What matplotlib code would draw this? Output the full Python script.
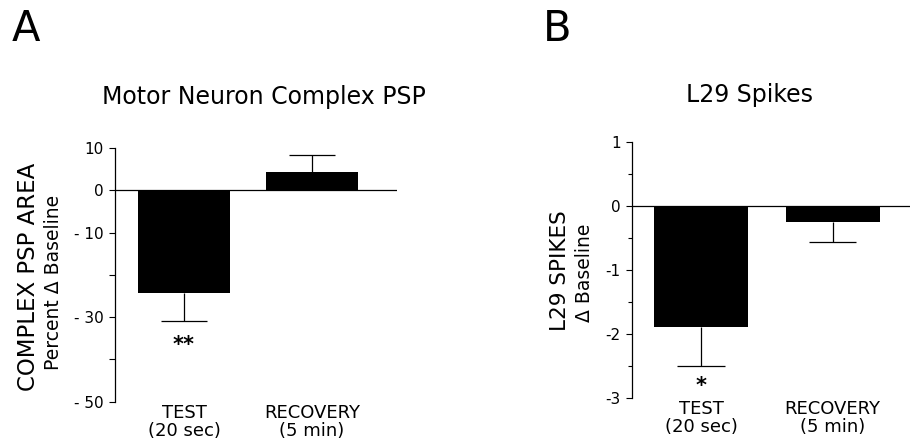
import matplotlib
matplotlib.use('Agg')
import matplotlib.pyplot as plt
from matplotlib.ticker import FixedLocator, FixedFormatter

plt.rcParams['font.family'] = ['DejaVu Sans']

# data
conds = ['TEST\n(20 sec)', 'RECOVERY\n(5 min)']
psp_mean = [-24.3, 4.3]
psp_err = [6.7, 4.0]
psp_stars = ['**', '']
spk_mean = [-1.9, -0.25]
spk_err = [0.61, 0.31]
spk_stars = ['*', '']

psp_ticks = [10, 0, -10, -20, -30, -40, -50]
psp_ticklabels = ['10', '0', '- 10', '', '- 30', '', '- 50']
spk_ticks = [1, 0, -1, -2, -3]
spk_ticklabels = ['1', '0', '-1', '-2', '-3']
spk_minor = [0.5, -0.5, -1.5, -2.5]

W, H = 910, 445
fig = plt.figure(figsize=(W / 100, H / 100), dpi=100)


def px_axes(x0, y0, x1, y1):
    # pixel box (top-left origin) -> figure axes
    return fig.add_axes([x0 / W, 1 - y1 / H, (x1 - x0) / W, (y1 - y0) / H])


def ftext(x, y, s, **kw):
    fig.text(x / W, 1 - y / H, s, **kw)


def bar_panel(ax, means, errs, stars, star_off, width, cap):
    x = list(range(len(means)))
    # error bar goes only away from zero
    ends = [m - e if m < 0 else m + e for m, e in zip(means, errs)]
    ax.vlines(x, means, ends, color='black', lw=0.9, zorder=1)
    ax.hlines(ends, [xi - cap for xi in x], [xi + cap for xi in x], color='black', lw=0.9, zorder=1)
    ax.bar(x, means, width=width, color='black', zorder=2)
    ax.axhline(0, color='black', lw=0.9, zorder=3)
    for xi, y, s in zip(x, ends, stars):
        if s:
            ax.annotate(s, (xi, y), xytext=(0, star_off), textcoords='offset points',
                        ha='center', va='center', fontsize=15, fontweight='bold')
    for sp in ['top', 'right', 'bottom']:
        ax.spines[sp].set_visible(False)
    ax.spines['left'].set_linewidth(0.9)
    ax.set_xticks(x)
    ax.set_xticklabels(conds, fontsize=13, linespacing=0.95)
    ax.tick_params(axis='x', length=0, pad=2)
    ax.tick_params(axis='y', which='both', direction='out', width=0.8, labelsize=11, pad=4)
    ax.tick_params(axis='y', which='major', length=4)
    ax.tick_params(axis='y', which='minor', length=3)


# panel A
axA = px_axes(115, 148, 397, 401.7)
bar_panel(axA, psp_mean, psp_err, psp_stars, -17, 0.72, 0.18)
axA.set_xlim(-0.539, 1.664)
axA.set_ylim(-50, 10)
axA.yaxis.set_major_locator(FixedLocator(psp_ticks))
axA.yaxis.set_major_formatter(FixedFormatter(psp_ticklabels))

# panel B
axB = px_axes(631.7, 142, 910, 397.7)
bar_panel(axB, spk_mean, spk_err, spk_stars, -14, 0.715, 0.18)
axB.set_xlim(-0.527, 1.589)
axB.set_ylim(-3, 1)
axB.yaxis.set_major_locator(FixedLocator(spk_ticks))
axB.yaxis.set_major_formatter(FixedFormatter(spk_ticklabels))
axB.yaxis.set_minor_locator(FixedLocator(spk_minor))

# labels
ftext(12, 29, 'A', fontsize=30, ha='left', va='center')
ftext(543, 29, 'B', fontsize=30, ha='left', va='center')
ftext(264, 97, 'Motor Neuron Complex PSP', fontsize=17, ha='center', va='center')
ftext(750, 95, 'L29 Spikes', fontsize=17, ha='center', va='center')
ftext(29, 277, 'COMPLEX PSP AREA', fontsize=16.5, rotation=90, ha='center', va='center')
ftext(54, 282, 'Percent \u0394 Baseline', fontsize=13.5, rotation=90, ha='center', va='center')
ftext(560, 271, 'L29 SPIKES', fontsize=15.5, rotation=90, ha='center', va='center')
ftext(585, 273, '\u0394 Baseline', fontsize=13.5, rotation=90, ha='center', va='center')

fig.savefig('out.png', dpi=100)
